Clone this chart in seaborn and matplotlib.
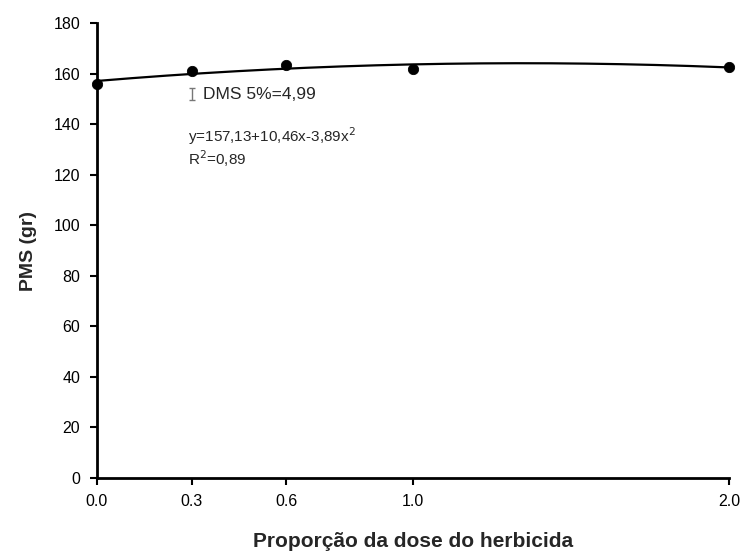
import numpy as np
import pandas as pd
import matplotlib
matplotlib.use("Agg")
import matplotlib.pyplot as plt
import seaborn as sns

# Observed means
dose = [0.0, 0.3, 0.6, 1.0, 2.0]
pms = [156.0, 161.0, 163.5, 162.0, 162.6]

# Quadratic regression coefficients (b0, b1, b2)
coef = [157.13, 10.46, -3.89]
r2 = 0.89
dms = 4.99

xticks = [0.0, 0.3, 0.6, 1.0, 2.0]
xtick_labels = ["0.0", "0.3", "0.6", "1.0", "2.0"]
yticks = list(range(0, 181, 20))

sns.set_theme(style="ticks")
plt.rcParams["font.family"] = ["Liberation Sans", "DejaVu Sans"]

fig = plt.figure(figsize=(7.44, 5.53), dpi=100)
ax = fig.add_axes([0.130, 0.136, 0.850, 0.822])

pts = pd.DataFrame({"dose": dose, "pms": pms})
xs = np.linspace(0, 2, 200)
fit = pd.DataFrame({"dose": xs, "pms": coef[0] + coef[1] * xs + coef[2] * xs ** 2})

sns.lineplot(data=fit, x="dose", y="pms", color="black", linewidth=1.6, ax=ax)
sns.scatterplot(data=pts, x="dose", y="pms", color="black", s=55, edgecolor="black",
                zorder=5, clip_on=False, ax=ax)

# Least significant difference bar
ax.errorbar([0.3], [152.0], yerr=dms / 2, color="#777777", capsize=2.5,
            elinewidth=1.0, capthick=1.0, fmt="none")
ax.text(0.335, 151.6, "DMS 5%=4,99", fontsize=12.5, va="center", ha="left")
ax.text(0.29, 135.3, "y=157,13+10,46x-3,89x$^2$", fontsize=11, va="center", ha="left")
ax.text(0.29, 126.3, "R$^2$=0,89", fontsize=11, va="center", ha="left")

ax.set_xlim(0, 2.0)
ax.set_ylim(0, 180)
ax.set_xticks(xticks)
ax.set_xticklabels(xtick_labels)
ax.set_yticks(yticks)
ax.tick_params(axis="both", direction="out", length=5, width=1.5, labelsize=11.5,
               colors="black", pad=7)
for side in ["left", "bottom"]:
    ax.spines[side].set_linewidth(2)
    ax.spines[side].set_color("black")
sns.despine(ax=ax)

ax.set_xlabel("Proporção da dose do herbicida", fontsize=15, fontweight="bold", labelpad=16)
ax.set_ylabel("PMS (gr)", fontsize=14, fontweight="bold", labelpad=12)

fig.savefig("out.png", dpi=100)
